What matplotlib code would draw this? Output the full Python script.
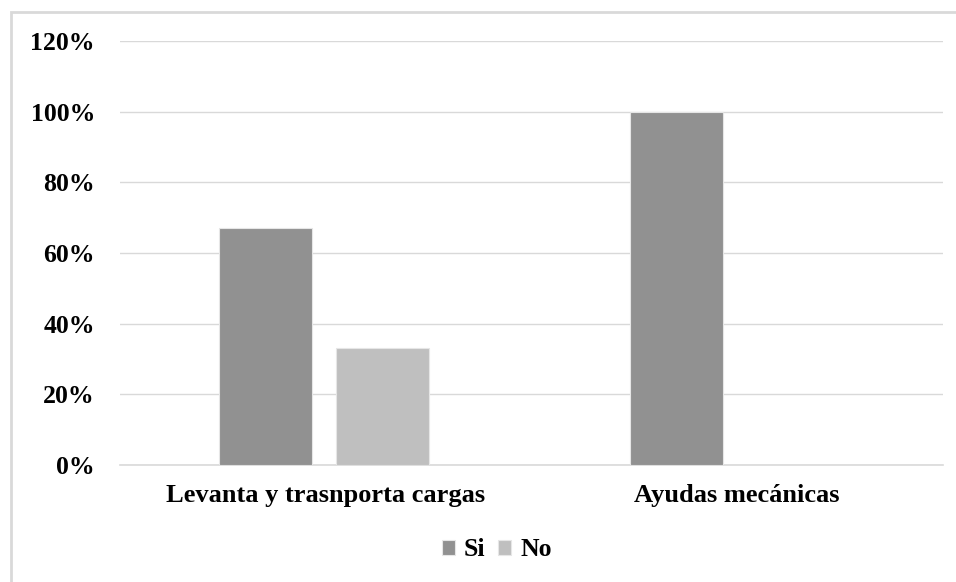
import numpy as np
import matplotlib
matplotlib.use('Agg')
from matplotlib import pyplot as plt
from matplotlib.patches import Rectangle
from matplotlib.ticker import MultipleLocator, FuncFormatter

categories = ['Levanta y trasnporta cargas', 'Ayudas mecánicas']
series = ['Si', 'No']
si_values = [0.67, 1.00]
no_values = [0.33, 0.00]
colors = ['#919191', '#bfbfbf']

plt.rcParams['font.family'] = ['Liberation Serif', 'DejaVu Serif']
plt.rcParams['font.weight'] = 'bold'
fs = 18.5

fig = plt.figure(figsize=(9.56, 5.82), dpi=100)
# outer chart frame
fig.patches.append(Rectangle((11 / 956, -0.01), 1.0, 1 - 12 / 582 + 0.01,
                             transform=fig.transFigure, fill=False,
                             edgecolor='#d9d9d9', linewidth=2))

ax = fig.add_axes([120 / 956, 1 - 465 / 582, (943 - 120) / 956, (465 - 41) / 582])
x = np.arange(len(categories))
w = 0.226
off = 0.142
for vals, name, c, sgn in zip([si_values, no_values], series, colors, [-1, 1]):
    ax.bar(x + sgn * off - 0.005, vals, width=w, color=c, label=name,
           edgecolor='#e6e6e6', linewidth=0.8, zorder=3)

ax.set_xlim(-0.5, 1.5)
ax.set_ylim(0, 1.2)
ax.yaxis.set_major_locator(MultipleLocator(0.2))
ax.yaxis.set_major_formatter(FuncFormatter(lambda v, p: f'{v * 100:.0f}%'))
ax.grid(axis='y', color='#d9d9d9', linewidth=1, zorder=0)
ax.axhline(0, color='#d9d9d9', linewidth=1.2, zorder=2, clip_on=False)
ax.set_xticks(x)
ax.set_xticklabels(categories)
for s in ax.spines.values():
    s.set_visible(False)
ax.tick_params(axis='both', length=0, labelsize=fs)
ax.tick_params(axis='x', labelsize=19, pad=14)
ax.tick_params(axis='y', pad=18)
for t in ax.get_xticklabels() + ax.get_yticklabels():
    t.set_fontweight('bold')

fig.legend(loc='center', bbox_to_anchor=(497 / 956, 1 - 550 / 582), ncol=2,
           frameon=False, handlelength=0.5, handleheight=0.5,
           handletextpad=0.35, columnspacing=0.5, prop={'weight': 'bold', 'size': fs})

fig.savefig('out.png', dpi=100)
